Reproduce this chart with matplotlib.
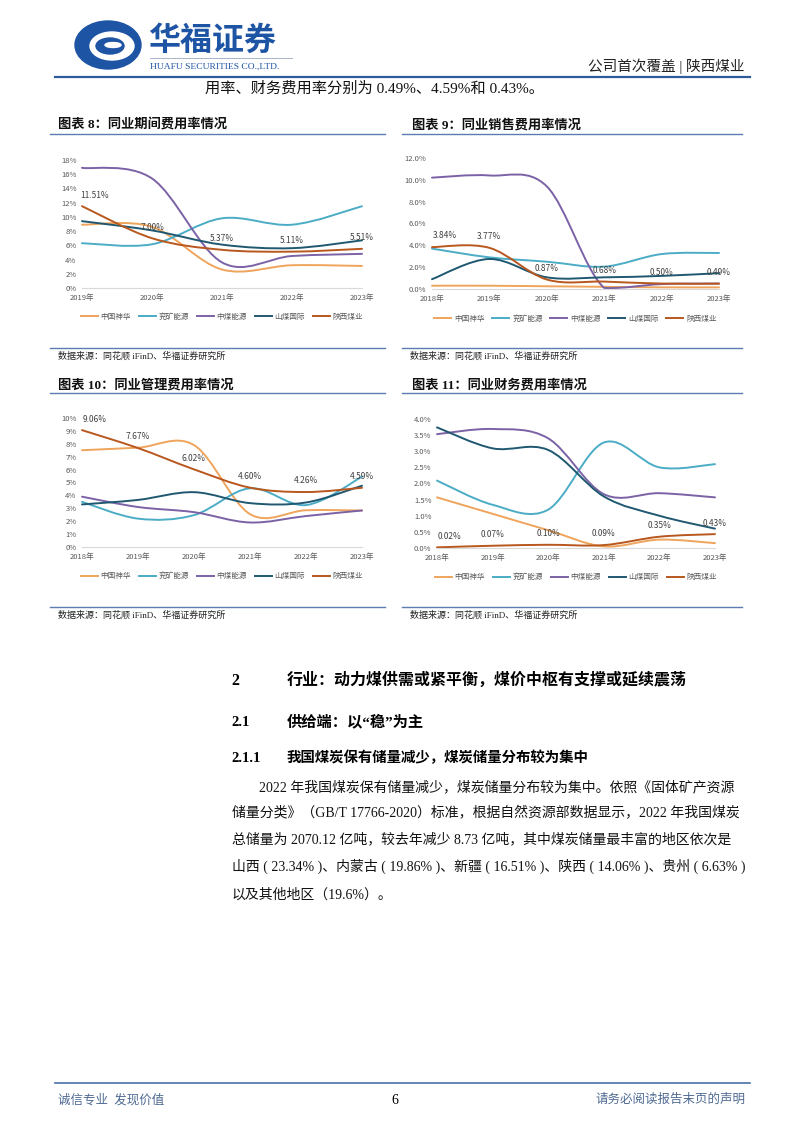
import matplotlib.pyplot as plt
import numpy as np
from matplotlib.path import Path
from matplotlib.patches import PathPatch, Ellipse
from matplotlib.lines import Line2D

plt.rcParams['font.family'] = ['Noto Sans CJK SC', 'DejaVu Sans']

W, H = 802, 1133
SERIF = ['Liberation Serif', 'Noto Sans CJK SC']

# ---- data ----
companies = ['中国神华', '兖矿能源', '中煤能源', '山煤国际', '陕西煤业']
colors = ['#EFA45C', '#4BACC6', '#7B62A6', '#1F5870', '#B8571E']

years_a = ['2019年', '2020年', '2021年', '2022年', '2023年']
years_b = ['2018年', '2019年', '2020年', '2021年', '2022年', '2023年']

# 图表8 期间费用率 (%)
qj_shenhua = [8.9, 8.6, 2.6, 3.2, 3.1]
qj_yankuang = [6.3, 6.15, 9.8, 8.9, 11.5]
qj_zhongmei = [16.9, 15.4, 3.6, 4.5, 4.8]
qj_shanmei = [9.4, 8.1, 6.1, 5.6, 6.7]
qj_shaanmei = [11.51, 7.00, 5.37, 5.11, 5.51]

# 图表9 销售费用率 (%)
xs_shenhua = [0.3, 0.3, 0.25, 0.2, 0.15, 0.15]
xs_yankuang = [3.7, 2.9, 2.5, 2.05, 3.2, 3.3]
xs_zhongmei = [10.2, 10.4, 9.4, 0.1, 0.45, 0.5]
xs_shanmei = [0.9, 2.75, 1.07, 1.07, 1.2, 1.45]
xs_shaanmei = [3.84, 3.77, 0.87, 0.68, 0.50, 0.49]

# 图表10 管理费用率 (%)
gl_shenhua = [7.5, 7.7, 7.9, 2.55, 2.85, 2.83]
gl_yankuang = [3.5, 2.2, 2.47, 4.55, 3.25, 5.45]
gl_zhongmei = [3.9, 3.1, 2.7, 1.9, 2.4, 2.83]
gl_shanmei = [3.3, 3.65, 4.25, 3.4, 3.45, 4.75]
gl_shaanmei = [9.06, 7.67, 6.02, 4.60, 4.26, 4.59]

# 图表11 财务费用率 (%)
cw_shenhua = [1.57, 1.06, 0.55, 0.05, 0.26, 0.15]
cw_yankuang = [2.09, 1.34, 1.19, 3.27, 2.5, 2.6]
cw_zhongmei = [3.53, 3.69, 3.4, 1.67, 1.7, 1.57]
cw_shanmei = [3.74, 3.09, 3.04, 1.6, 1.0, 0.6]
cw_shaanmei = [0.02, 0.07, 0.10, 0.09, 0.35, 0.43]


def fx(x):
    return x / W


def fy(y):
    return 1 - y / H


def smooth_path(xs, ys):
    # Excel-style smoothed line drawn as cubic bezier through the data points
    pts = list(zip(xs, ys))
    n = len(pts)
    verts = [pts[0]]
    codes = [Path.MOVETO]
    for i in range(n - 1):
        p0 = pts[i - 1] if i > 0 else pts[i]
        p1 = pts[i]
        p2 = pts[i + 1]
        p3 = pts[i + 2] if i + 2 < n else pts[i + 1]
        c1 = (p1[0] + (p2[0] - p0[0]) / 6, max(0, p1[1] + (p2[1] - p0[1]) / 6))
        c2 = (p2[0] - (p3[0] - p1[0]) / 6, max(0, p2[1] - (p3[1] - p1[1]) / 6))
        verts += [c1, c2, p2]
        codes += [Path.CURVE4] * 3
    return Path(verts, codes)


fig = plt.figure(figsize=(W / 100, H / 100), dpi=100)


def hline(x0, x1, y, color, lw):
    fig.add_artist(Line2D([fx(x0), fx(x1)], [fy(y), fy(y)], color=color, lw=lw))


def draw_chart(rect, years, series, ymax, ystep, yfmt, title, tx, ty, box):
    l, t, r, b = rect
    ax = fig.add_axes([fx(l), fy(b), (r - l) / W, (b - t) / H])
    n = len(years)
    xs = np.arange(n)
    for vals, c in zip(series, colors):
        ax.add_patch(PathPatch(smooth_path(xs, vals), fill=False, ec=c, lw=1.4,
                               clip_on=False, capstyle='round'))
    for i, v in enumerate(series[-1]):
        dx = 9 if i == 0 else 0
        ax.annotate(f'{v:.2f}%', (i, v), xytext=(dx, 8), textcoords='offset points',
                    ha='center', va='center', fontsize=6, color='#404040')
    ax.set_xlim(0, n - 1)
    ax.set_ylim(0, ymax)
    ax.set_xticks(xs)
    ax.set_xticklabels(years)
    yt = np.arange(0, ymax + ystep / 2, ystep)
    ax.set_yticks(yt)
    ax.set_yticklabels([yfmt.format(v) for v in yt])
    ax.tick_params(length=0, labelsize=5.5, labelcolor='#595959')
    ax.tick_params(axis='y', pad=4)
    ax.tick_params(axis='x', pad=4)
    for s in ['top', 'right', 'left']:
        ax.spines[s].set_visible(False)
    ax.spines['bottom'].set_color('#D9D9D9')
    ax.spines['bottom'].set_linewidth(0.8)
    ax.patch.set_alpha(0)
    handles = [Line2D([], [], color=c, lw=1.4) for c in colors]
    ax.legend(handles, companies, loc='center', bbox_to_anchor=(0.5, -0.227),
              ncol=5, frameon=False, fontsize=5.5, handlelength=2.2,
              columnspacing=1.0, handletextpad=0.4, labelcolor='#595959')

    # title, rules and source
    bx0, bx1, title_line, src_line = box
    fig.text(fx(tx), fy(ty), title, fontsize=9.5, weight='bold', va='center',
             family=SERIF, color='#111111')
    hline(bx0, bx1, title_line, '#5B7DB1', 1.0)
    hline(bx0, bx1, src_line, '#5B7DB1', 1.0)
    fig.text(fx(bx0 + 8), fy(src_line + 8), '数据来源：同花顺 iFinD、华福证券研究所',
             fontsize=6.5, va='center', family=SERIF, color='#222222')


draw_chart((82, 160, 362, 288), years_a,
           [qj_shenhua, qj_yankuang, qj_zhongmei, qj_shanmei, qj_shaanmei],
           18, 2, '{:.0f}%', '图表 8：同业期间费用率情况', 58, 125, (50, 385, 134, 348))
draw_chart((432, 158, 719, 289), years_b,
           [xs_shenhua, xs_yankuang, xs_zhongmei, xs_shanmei, xs_shaanmei],
           12, 2, '{:.1f}%', '图表 9：同业销售费用率情况', 412, 125, (402, 742, 134, 348))
draw_chart((82, 418, 362, 547), years_b,
           [gl_shenhua, gl_yankuang, gl_zhongmei, gl_shanmei, gl_shaanmei],
           10, 1, '{:.0f}%', '图表 10：同业管理费用率情况', 58, 385, (50, 385, 393, 607))
draw_chart((437, 419, 715, 548), years_b,
           [cw_shenhua, cw_yankuang, cw_zhongmei, cw_shanmei, cw_shaanmei],
           4, 0.5, '{:.1f}%', '图表 11：同业财务费用率情况', 412, 385, (402, 742, 393, 607))

# ---- header ----
blue = '#1D54A4'
fig.add_artist(Ellipse((fx(108), fy(45)), 66 / W, 48 / H, color=blue))
fig.add_artist(Ellipse((fx(112), fy(46)), 44 / W, 28 / H, color='white'))
fig.add_artist(Ellipse((fx(110), fy(46)), 28 / W, 16 / H, color=blue))
fig.add_artist(Ellipse((fx(113), fy(45)), 16 / W, 5 / H, color='white'))
fig.text(fx(148), fy(41), '华福证券', fontsize=23, weight='bold', color=blue, va='center')
hline(150, 292, 58, '#9AA8BC', 0.6)
fig.text(fx(150), fy(67), 'HUAFU SECURITIES CO.,LTD.', fontsize=6.8, color=blue,
         va='center', family=SERIF)
fig.text(fx(745), fy(66), '公司首次覆盖 | 陕西煤业', fontsize=10.5, ha='right',
         va='center', color='#222222', family=SERIF)
hline(55, 750, 77, '#2E5C9A', 1.6)
fig.text(fx(205), fy(88), '用率、财务费用率分别为 0.49%、4.59%和 0.43%。', fontsize=11,
         va='center', family=SERIF, color='#111111')

# ---- body text ----
fig.text(fx(231), fy(681), '2', fontsize=11.5, weight='bold', va='center', family=SERIF)
fig.text(fx(287), fy(681), '行业：动力煤供需或紧平衡，煤价中枢有支撑或延续震荡', fontsize=11.5,
         weight='bold', va='center', family=SERIF)
fig.text(fx(231), fy(722), '2.1', fontsize=10.5, weight='bold', va='center', family=SERIF)
fig.text(fx(287), fy(722), '供给端：以“稳”为主', fontsize=11, weight='bold', va='center',
         family=SERIF)
fig.text(fx(231), fy(758), '2.1.1', fontsize=10.5, weight='bold', va='center', family=SERIF)
fig.text(fx(287), fy(758), '我国煤炭保有储量减少，煤炭储量分布较为集中', fontsize=10.4,
         weight='bold', va='center', family=SERIF)

para = [
    (259, 787, '2022 年我国煤炭保有储量减少，煤炭储量分布较为集中。依照《固体矿产资源'),
    (232, 813, '储量分类》（GB/T 17766-2020）标准，根据自然资源部数据显示，2022 年我国煤炭'),
    (232, 839, '总储量为 2070.12 亿吨，较去年减少 8.73 亿吨，其中煤炭储量最丰富的地区依次是'),
    (232, 866, '山西 ( 23.34% )、内蒙古 ( 19.86% )、新疆 ( 16.51% )、陕西 ( 14.06% )、贵州 ( 6.63% )'),
    (232, 895, '以及其他地区（19.6%）。'),
]
for x, y, s in para:
    fig.text(fx(x), fy(y), s, fontsize=10, va='center', family=SERIF, color='#111111')

# ---- footer ----
hline(55, 750, 1083, '#4A6FA5', 1.2)
fig.text(fx(58), fy(1100), '诚信专业  发现价值', fontsize=9, va='center', color='#4F6A92',
         family=SERIF)
fig.text(fx(395), fy(1100), '6', fontsize=10, va='center', ha='center', family=SERIF)
fig.text(fx(745), fy(1100), '请务必阅读报告末页的声明', fontsize=9, va='center', ha='right',
         color='#4F6A92', family=SERIF)

fig.savefig('out.png', dpi=100)
